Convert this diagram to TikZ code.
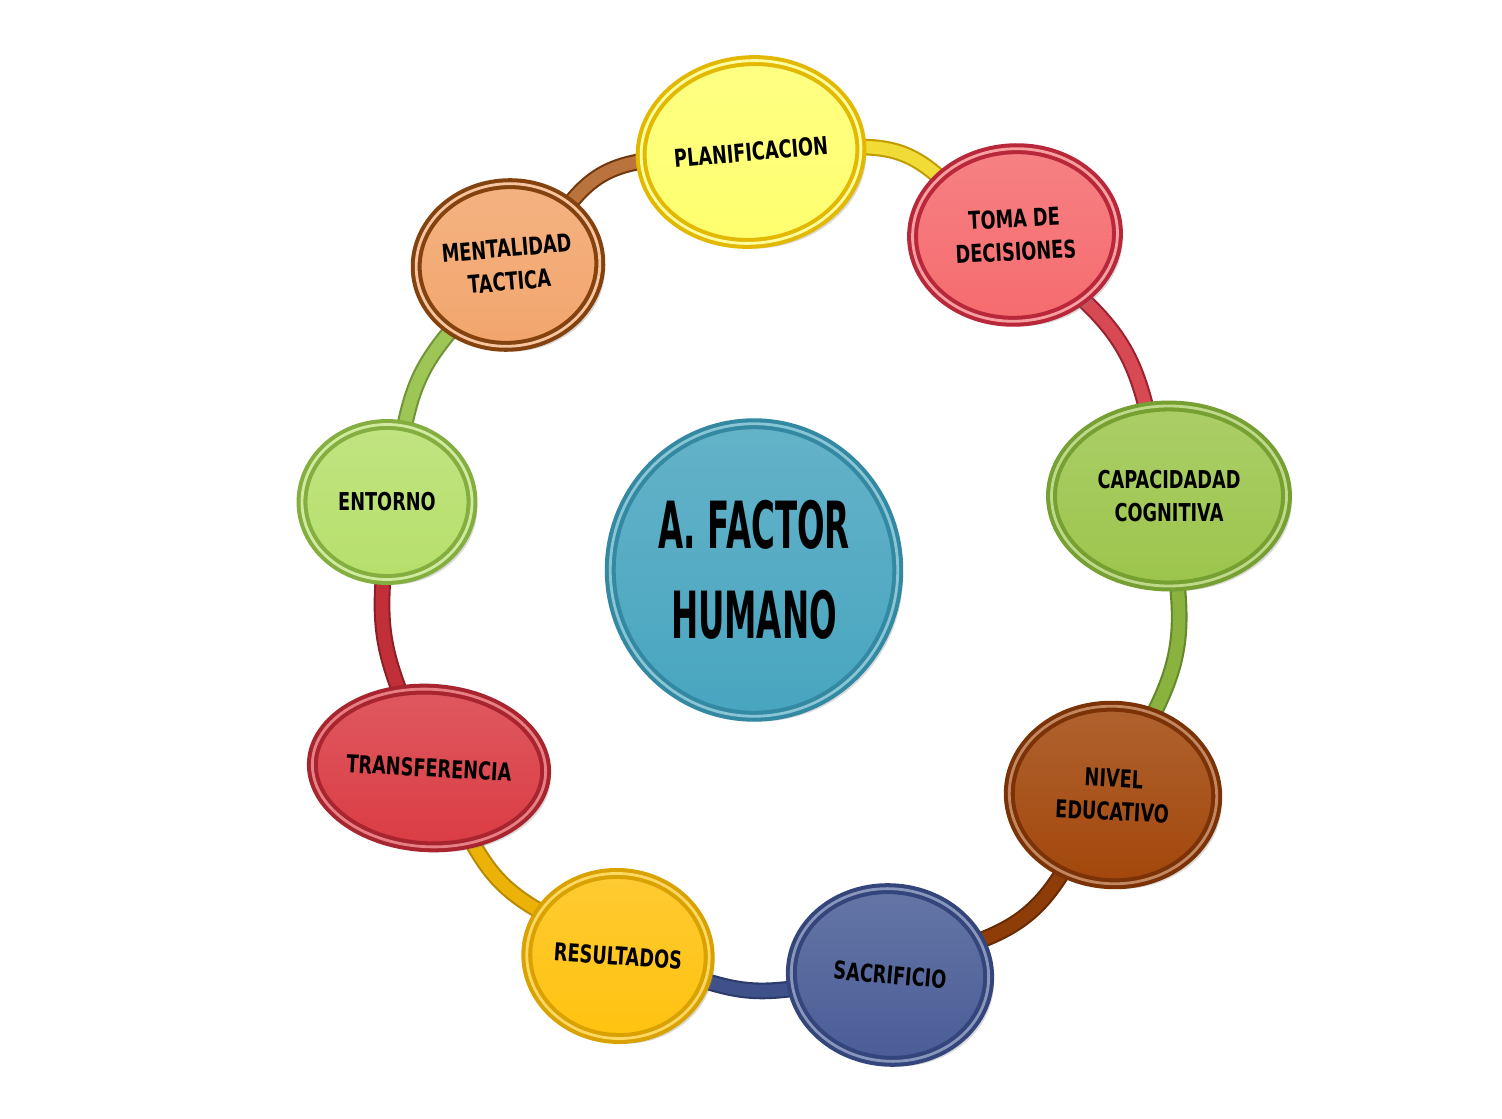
\documentclass[tikz,border=0pt]{standalone}
\usepackage{fontspec}
\usetikzlibrary{shapes,shadows,backgrounds}
\newfontfamily\lblfont[FakeStretch=0.72]{DejaVu Sans}
\newfontfamily\factfont[FakeStretch=0.5]{DejaVu Sans}
\definecolor{planfill}{HTML}{FFFF6E}  \definecolor{planrim}{HTML}{E3B800}
\definecolor{tomafill}{HTML}{F56B6E}  \definecolor{tomarim}{HTML}{B8283A}
\definecolor{capfill}{HTML}{9CC54C}   \definecolor{caprim}{HTML}{76A032}
\definecolor{nivelfill}{HTML}{A2470B} \definecolor{nivelrim}{HTML}{7A3206}
\definecolor{sacfill}{HTML}{4A5D96}   \definecolor{sacrim}{HTML}{34457C}
\definecolor{resfill}{HTML}{FFC20F}   \definecolor{resrim}{HTML}{D9A200}
\definecolor{transfill}{HTML}{DA3C44} \definecolor{transrim}{HTML}{A8242E}
\definecolor{entfill}{HTML}{B6DF6B}   \definecolor{entrim}{HTML}{84AE40}
\definecolor{mentfill}{HTML}{F2A56C}  \definecolor{mentrim}{HTML}{84420E}
\definecolor{factfill}{HTML}{48A5BF}  \definecolor{factrim}{HTML}{3388A2}
\tikzset{
  bubble/.style={ellipse, draw=#1rim, double=#1fill!65!white, line width=2.3pt,
    double distance=1.6pt, top color=#1fill!85!white, bottom color=#1fill,
    inner sep=0pt, align=center,
    drop shadow={opacity=0.3, shadow xshift=3pt, shadow yshift=-3pt}},
  ring/.style={draw=#1rim!85!black, double=#1fill!50!#1rim, line width=1.2pt,
    double distance=0.25cm}
}

\begin{document}
\begin{tikzpicture}
      \useasboundingbox (0,0) rectangle (30.04,22.36);
      \begin{scope}[font=\lblfont\bfseries\fontsize{14}{19}\selectfont]
          \node[bubble=plan,  minimum width=4.4cm,  minimum height=3.65cm, rotate=5]  (plan)  at (15.02,19.32) {PLANIFICACION};
          \node[bubble=toma,  minimum width=4.1cm,  minimum height=3.45cm, rotate=3]  (toma)  at (20.30,17.66) {TOMA DE\\DECISIONES};
          \node[bubble=cap,   minimum width=4.7cm,  minimum height=3.6cm]             (cap)   at (23.38,12.44) {CAPACIDADAD\\COGNITIVA};
          \node[bubble=nivel, minimum width=4.15cm, minimum height=3.55cm, rotate=-3] (nivel) at (22.26,6.46)  {NIVEL\\EDUCATIVO};
          \node[bubble=sac,   minimum width=3.95cm, minimum height=3.45cm, rotate=-5] (sac)   at (17.80,2.86)  {SACRIFICIO};
          \node[bubble=res,   minimum width=3.65cm, minimum height=3.3cm,  rotate=-4] (res)   at (12.36,3.24)  {RESULTADOS};
          \node[bubble=trans, minimum width=4.2cm,  minimum height=3.15cm, rotate=-3] (trans) at (8.58,7.0)    {TRANSFERENCIA};
          \node[bubble=ent,   minimum width=3.4cm,  minimum height=3.1cm]             (ent)   at (7.74,12.32)  {ENTORNO};
          \node[bubble=ment,  minimum width=3.55cm, minimum height=3.25cm, rotate=5]  (ment)  at (10.16,17.06) {MENTALIDAD\\TACTICA};
      \end{scope}

      \node[bubble=fact, minimum width=5.75cm, minimum height=5.85cm,
            font=\factfont\bfseries\fontsize{37}{51}\selectfont] (factor) at (15.08,10.96) {A. FACTOR\\HUMANO};

      \begin{scope}[on background layer]
          \draw[ring=ment]  (ment)  to[bend left=20] (plan);
          \draw[ring=plan]  (plan)  to[bend left=20] (toma);
          \draw[ring=toma]  (toma)  to[bend left=16] (cap);
          \draw[ring=cap]   (cap)   to[bend left=16] (nivel);
          \draw[ring=nivel] (nivel) to[bend left=18] (sac);
          \draw[ring=sac]   (sac)   to[bend left=12] (res);
          \draw[ring=res]   (res)   to[bend left=15] (trans);
          \draw[ring=trans] (trans) to[bend left=12] (ent);
          \draw[ring=ent]   (ent)   to[bend left=14] (ment);
      \end{scope}
  \end{tikzpicture}
\end{document}
